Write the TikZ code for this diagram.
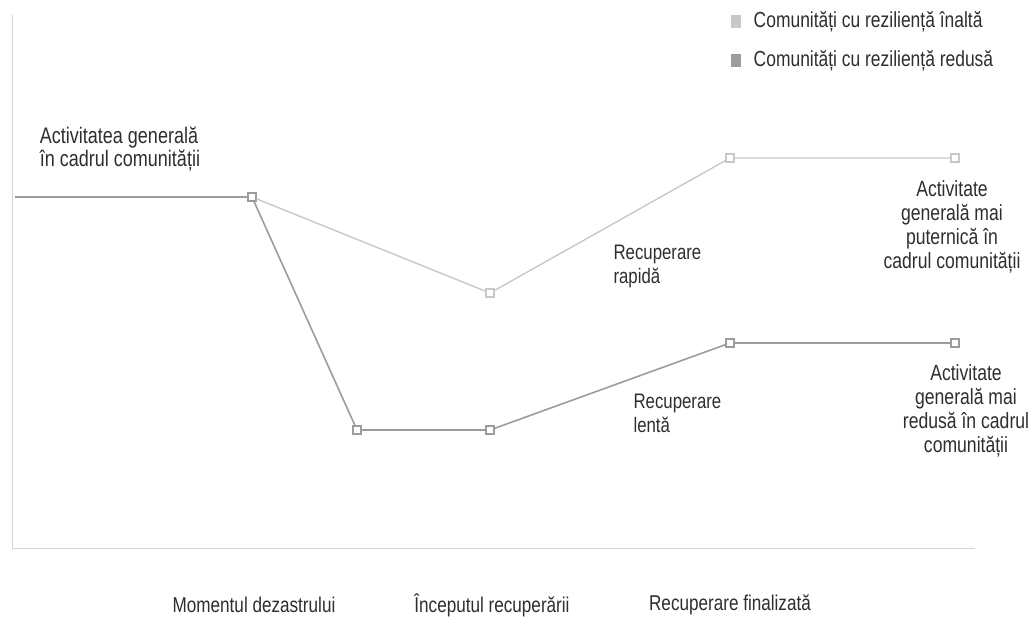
\documentclass[tikz,border=0pt]{standalone}
\usepackage{fontspec}
\setmainfont{Liberation Sans}[FakeStretch=0.8]
\usetikzlibrary{positioning}
\definecolor{ink}{HTML}{2E2E2E}
\definecolor{hiline}{HTML}{C8C8C8}
\definecolor{loline}{HTML}{9C9C9C}
\definecolor{axisline}{HTML}{D4D4D4}
\tikzset{
  every node/.style={font=\fontsize{21}{23}\selectfont,text=ink},
  himark/.style={draw=hiline,fill=white,minimum size=8pt,inner sep=0pt,line width=1.2pt},
  lomark/.style={draw=loline,fill=white,minimum size=8pt,inner sep=0pt,line width=1.2pt},
  hiline/.style={draw=hiline,line width=1.4pt},
  loline/.style={draw=loline,line width=1.6pt},
  axis/.style={draw=axisline,line width=0.8pt},
  keybox/.style={minimum width=10pt,minimum height=13pt,inner sep=0pt},
  keytext/.style={anchor=west,font=\fontsize{21.8}{24}\selectfont},
  tag/.style={align=left,font=\fontsize{21}{24}\selectfont},
  endtag/.style={align=center,font=\fontsize{22}{24}\selectfont},
  ticklabel/.style={anchor=center,font=\fontsize{21.4}{23}\selectfont},
}
\begin{document}
\begin{tikzpicture}[x=1pt,y=-1pt]
\useasboundingbox (0,0) rectangle (1032,623);
% axes
\coordinate (top) at (12,15);
\coordinate (origin) at (12,548);
\coordinate (far) at (975,548);
\draw[axis] (top) -- (origin) -- (far);
% data points
\coordinate (start) at (15,197);
\node[lomark] (p0) at (252,197) {};
\node[himark] (h1) at (490,293) {};
\node[himark] (h2) at (730,158) {};
\node[himark] (h3) at (955,158) {};
\node[lomark] (l1) at (357,430) {};
\node[lomark] (l2) at (490,430) {};
\node[lomark] (l3) at (730,343) {};
\node[lomark] (l4) at (955,343) {};
% series
\draw[loline] (start) -- (p0);
\draw[hiline] (p0) -- (h1) -- (h2) -- (h3);
\draw[loline] (p0) -- (l1) -- (l2) -- (l3) -- (l4);
% labels
\node[tag,font=\fontsize{22.5}{23}\selectfont] (base) at (120,149) {Activitatea generală\\în cadrul comunității};
\node[tag,anchor=west] (fast) at (610,266) {Recuperare\\rapidă};
\node[tag,anchor=west] (slow) at (630,413) {Recuperare\\lentă};
\node[endtag] (strong) at (952,227) {Activitate\\generală mai\\puternică în\\cadrul comunității};
\node[endtag] (weak) at (966,411) {Activitate\\generală mai\\redusă în cadrul\\comunității};
% time axis
\node[ticklabel] (t1) at (254,605) {Momentul dezastrului};
\node[ticklabel] (t2) at (492,605) {Începutul recuperării};
\node[ticklabel] (t3) at (730,605) {Recuperare finalizată};
% legend
\node[keybox,fill=hiline] (k1) at (736,22) {};
\node[keytext,right=9pt of k1] {Comunități cu reziliență înaltă};
\node[keybox,fill=loline] (k2) at (736,61) {};
\node[keytext,right=9pt of k2] {Comunități cu reziliență redusă};
\end{tikzpicture}
\end{document}
